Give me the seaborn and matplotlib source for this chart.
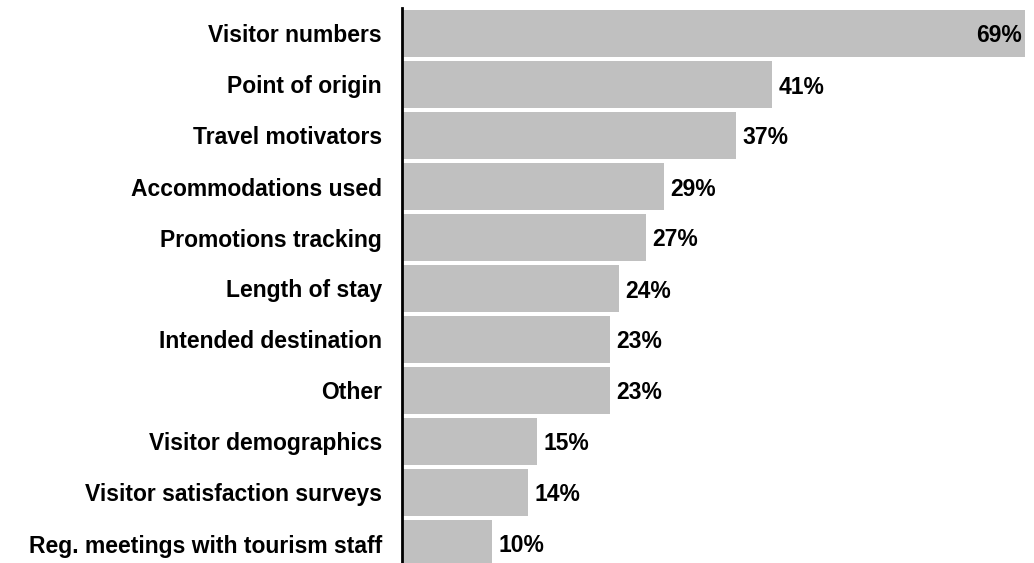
import matplotlib
matplotlib.use("Agg")
import matplotlib.pyplot as plt
import seaborn as sns
import pandas as pd

categories = [
    "Visitor numbers",
    "Point of origin",
    "Travel motivators",
    "Accommodations used",
    "Promotions tracking",
    "Length of stay",
    "Intended destination",
    "Other",
    "Visitor demographics",
    "Visitor satisfaction surveys",
    "Reg. meetings with tourism staff",
]
values = [69, 41, 37, 29, 27, 24, 23, 23, 15, 14, 10]

df = pd.DataFrame({"category": categories, "value": values})

sns.set_style("white")
plt.rcParams["font.family"] = ["Liberation Sans", "DejaVu Sans"]
plt.rcParams["text.color"] = "black"

FS = 16.5
W, H = 1034, 563
fig = plt.figure(figsize=(W / 100, H / 100), dpi=100)
left, right, top, step = 402, 1025, 8, 51.0
ax = fig.add_axes([left / W, 0, (right - left) / W, (H - top) / H])

sns.barplot(data=df, x="value", y="category", orient="h", color="#c0c0c0",
            saturation=1, width=0.92, ax=ax, linewidth=0)

ax.set_ylim(-0.5 + (H - top) / step, -0.5)
ax.set_xlim(0, 69)

for spine in ["top", "right", "bottom"]:
    ax.spines[spine].set_visible(False)
ax.spines["left"].set_linewidth(2)
ax.spines["left"].set_color("black")

ax.set_xticks([])
ax.set_xlabel("")
ax.set_ylabel("")
ax.tick_params(axis="y", length=0, pad=14.5)
for lbl in ax.get_yticklabels():
    lbl.set_fontsize(FS)
    lbl.set_fontweight("bold")
    lbl.set_color("black")

for i, v in enumerate(values):
    inside = v >= 60
    ax.annotate(f"{v}%", xy=(v, i), xytext=(-2 if inside else 4.5, 0),
                textcoords="offset points", ha="right" if inside else "left",
                va="center_baseline", fontsize=FS, fontweight="bold", color="black")

fig.savefig("out.png", dpi=100)
